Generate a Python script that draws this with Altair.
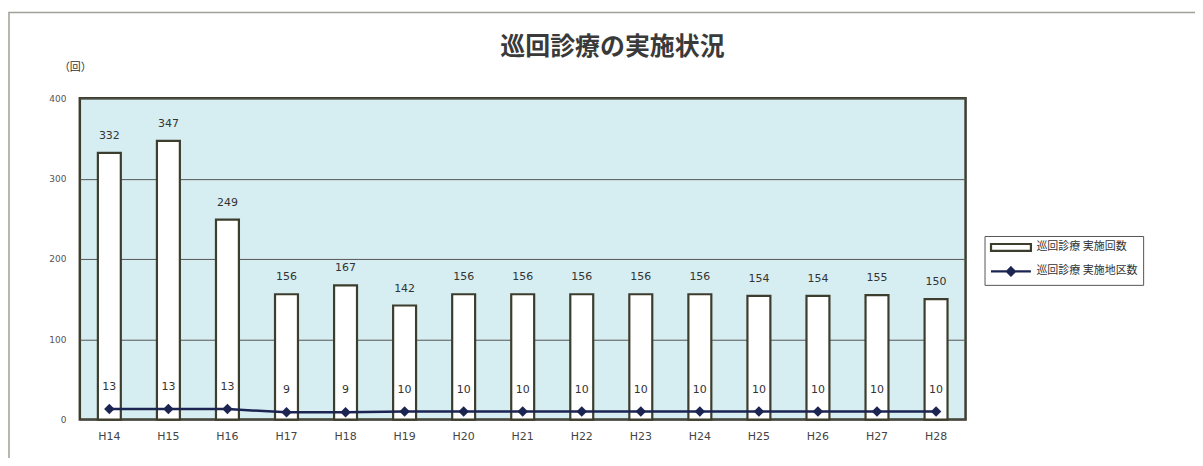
import altair as alt
import pandas as pd

categories = ["H14", "H15", "H16", "H17", "H18", "H19", "H20", "H21", "H22",
              "H23", "H24", "H25", "H26", "H27", "H28"]
visits = [332, 347, 249, 156, 167, 142, 156, 156, 156, 156, 156, 154, 154, 155, 150]
districts = [13, 13, 13, 9, 9, 10, 10, 10, 10, 10, 10, 10, 10, 10, 10]
series_names = ["巡回診療 実施回数", "巡回診療 実施地区数"]
y_ticks = [0, 100, 200, 300, 400]

NAVY = "#1c2452"
EDGE = "#3d3d2e"
JP = "Noto Sans CJK JP"

bar_df = pd.DataFrame({"year": categories, "value": visits, "series": series_names[0]})
line_df = pd.DataFrame({"year": categories, "value": districts, "series": series_names[1]})
legend_df = pd.DataFrame({"series": series_names})

x_enc = alt.X("year:N", sort=categories, title=None,
              scale=alt.Scale(paddingInner=0, paddingOuter=0),
              axis=alt.Axis(labelAngle=0, labelFontSize=11, labelColor="#444",
                            labelPadding=11, ticks=False, domain=False, labelFont="DejaVu Sans"))
y_enc = alt.Y("value:Q", scale=alt.Scale(domain=[0, 400], nice=False),
              axis=alt.Axis(values=y_ticks, title="（回）", titleAngle=0, titleAlign="center",
                            titleBaseline="middle", titleX=-5, titleY=-31, titleFont=JP,
                            titleFontSize=11, titleFontWeight="normal", titleColor="#333",
                            labelFontSize=9, labelColor="#555", labelPadding=14,
                            ticks=False, domain=False, grid=True, gridColor="#555",
                            gridWidth=1, labelFont="DejaVu Sans"))

legend = alt.Legend(title=None, orient="none", legendX=907, legendY=138,
                    direction="vertical")
shape_scale = alt.Scale(domain=series_names,
                        range=["M-1,-0.7H7V0.7H-1Z",
                               "M-1,0H7M3,-0.8L3.8,0L3,0.8L2.2,0Z"])
fill_scale = alt.Scale(domain=series_names, range=["white", NAVY])
stroke_scale = alt.Scale(domain=series_names, range=[EDGE, NAVY])

frame = alt.Chart(pd.DataFrame({"k": [0]})).mark_rect(
    fill=None, stroke="#a0a098", strokeWidth=1.5, clip=False
).encode(x=alt.value(-71), x2=alt.value(1140), y=alt.value(-86), y2=alt.value(400))

bars = alt.Chart(bar_df).mark_bar(size=23, stroke=EDGE, strokeWidth=2.2, fill="white").encode(
    x=x_enc, y=y_enc)
bar_text = alt.Chart(bar_df).mark_text(dy=-17, fontSize=11, color="#333",
                                       font="DejaVu Sans").encode(
    x=alt.X("year:N", sort=categories), y="value:Q", text="value:Q")

line = alt.Chart(line_df).mark_line(color=NAVY, strokeWidth=2.5).encode(
    x=alt.X("year:N", sort=categories), y="value:Q")
points = alt.Chart(line_df).mark_point(shape="diamond", filled=True, size=110,
                                       color=NAVY, opacity=1).encode(
    x=alt.X("year:N", sort=categories), y="value:Q")
line_text = alt.Chart(line_df).mark_text(dy=-22, fontSize=11, color="#333",
                                         font="DejaVu Sans").encode(
    x=alt.X("year:N", sort=categories), y="value:Q", text="value:Q")

legend_layer = alt.Chart(legend_df).mark_point(clip=True, filled=True, opacity=1).encode(
    x=alt.value(-3000), y=alt.value(-3000),
    shape=alt.Shape("series:N", scale=shape_scale, legend=legend),
    fill=alt.Fill("series:N", scale=fill_scale, legend=legend),
    stroke=alt.Stroke("series:N", scale=stroke_scale, legend=legend),
)

chart = alt.layer(frame, bars, bar_text, line, points, line_text, legend_layer).properties(
    width=888, height=322,
    background="white",
    title=alt.Title("巡回診療の実施状況", font=JP, fontSize=25, fontWeight="bold",
                    color="#3a3a3a", anchor="middle", frame="group", dx=90, offset=0, dy=48),
    autosize=alt.AutoSizeParams(type="none"),
    padding={"left": 72, "top": 90, "right": 230, "bottom": 38},
).configure_view(fill="#d6eef2", stroke=EDGE, strokeWidth=2.5
).configure_legend(rowPadding=7, padding=5, strokeColor="#555", symbolSize=100,
                   symbolStrokeWidth=2.2, labelFont=JP, labelFontSize=11,
                   labelColor="#333", labelOffset=34, labelLimit=300)

chart.save("out.html", embed_options={"renderer": "svg", "actions": False})
